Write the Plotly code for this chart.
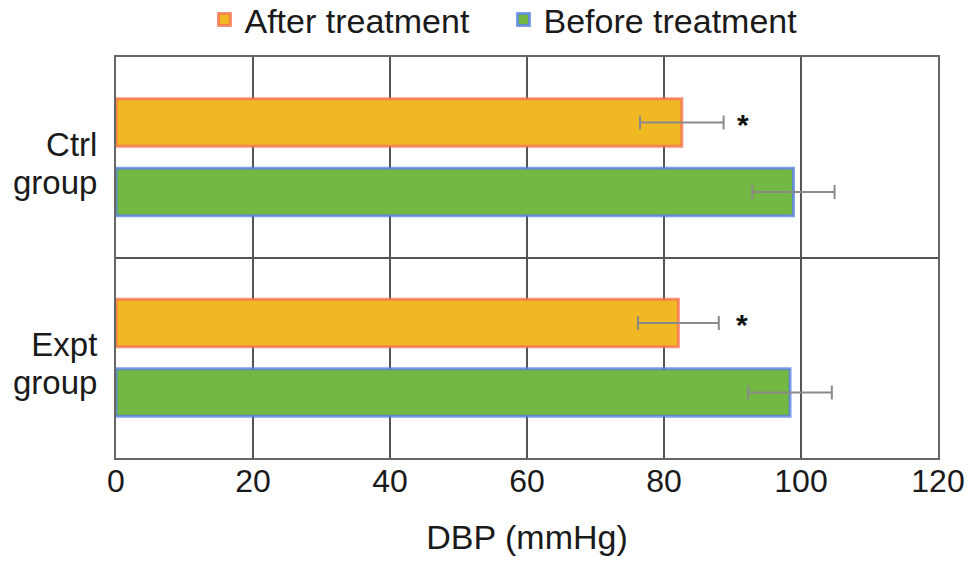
import plotly.graph_objects as go

groups = ["Ctrl group", "Expt group"]
group_labels = [["Ctrl", "group"], ["Expt", "group"]]
after_vals = [82.6, 82.1]
after_err = [6.1, 5.9]
before_vals = [98.9, 98.4]
before_err = [6.0, 6.1]
star_x = [91.6, 91.4]
x_ticks = [0, 20, 40, 60, 80, 100, 120]

FONT = "Liberation Sans, Arial, Helvetica, sans-serif"

def label_html(lines):
    return "<br>".join(f"<span style='font-size:33px'>{t}</span>" for t in lines)

fig = go.Figure()
fig.add_trace(go.Bar(
    name="After treatment", y=groups, x=after_vals, orientation="h",
    marker=dict(color="#F0B823", line=dict(color="rgba(245,110,80,0.75)", width=3)),
    error_x=dict(type="data", array=after_err, color="#8a8a8a", thickness=2, width=7),
))
fig.add_trace(go.Bar(
    name="Before treatment", y=groups, x=before_vals, orientation="h",
    marker=dict(color="#72B843", line=dict(color="rgba(85,125,235,0.75)", width=3)),
    error_x=dict(type="data", array=before_err, color="#8a8a8a", thickness=2, width=7),
))

for g, sx in zip(groups, star_x):
    fig.add_annotation(x=sx, y=g, text="<b>*</b>", showarrow=False, yshift=33,
                       font=dict(size=30, color="#111", family=FONT))

# category labels (two lines, right aligned, tighter line spacing than tick labels allow)
for g, lines in zip(groups, group_labels):
    fig.add_annotation(x=0, xref="paper", y=g, yref="y", text=label_html(lines),
                       showarrow=False, xanchor="right", yanchor="middle", align="right",
                       xshift=-17, yshift=-6, font=dict(size=29, color="#1a1a1a", family=FONT))

fig.update_layout(
    width=969, height=567,
    margin=dict(l=116, r=31, t=66, b=100),
    paper_bgcolor="white", plot_bgcolor="white",
    barmode="group", bargap=0.306, bargroupgap=0.316,
    font=dict(family=FONT, size=30, color="#1a1a1a"),
    showlegend=True,
    legend=dict(orientation="h", xref="container", yref="container",
                x=0.211, xanchor="left", y=1.0, yanchor="top",
                font=dict(size=34), bgcolor="rgba(0,0,0,0)",
                entrywidth=254, entrywidthmode="pixels", traceorder="normal"),
    xaxis=dict(range=[0, 120], tickvals=x_ticks,
               showgrid=True, gridcolor="#555",
               gridwidth=2, showline=True, linecolor="#666", linewidth=2, mirror=True,
               zeroline=False, ticks="", tickfont=dict(size=32), automargin=False,
               ticklabelstandoff=-6,
               title=dict(text="DBP (mmHg)", font=dict(size=34), standoff=27)),
    yaxis=dict(categoryorder="array", categoryarray=groups, autorange="reversed",
               tickson="boundaries", showticklabels=False,
               showgrid=True, gridcolor="#555", gridwidth=2,
               showline=True, linecolor="#666", linewidth=2, mirror=True,
               ticks="", automargin=False),
)

fig.write_html("out.html", config={"displayModeBar": False},
               post_script="document.body.style.margin='-9px 0 0 0';")
